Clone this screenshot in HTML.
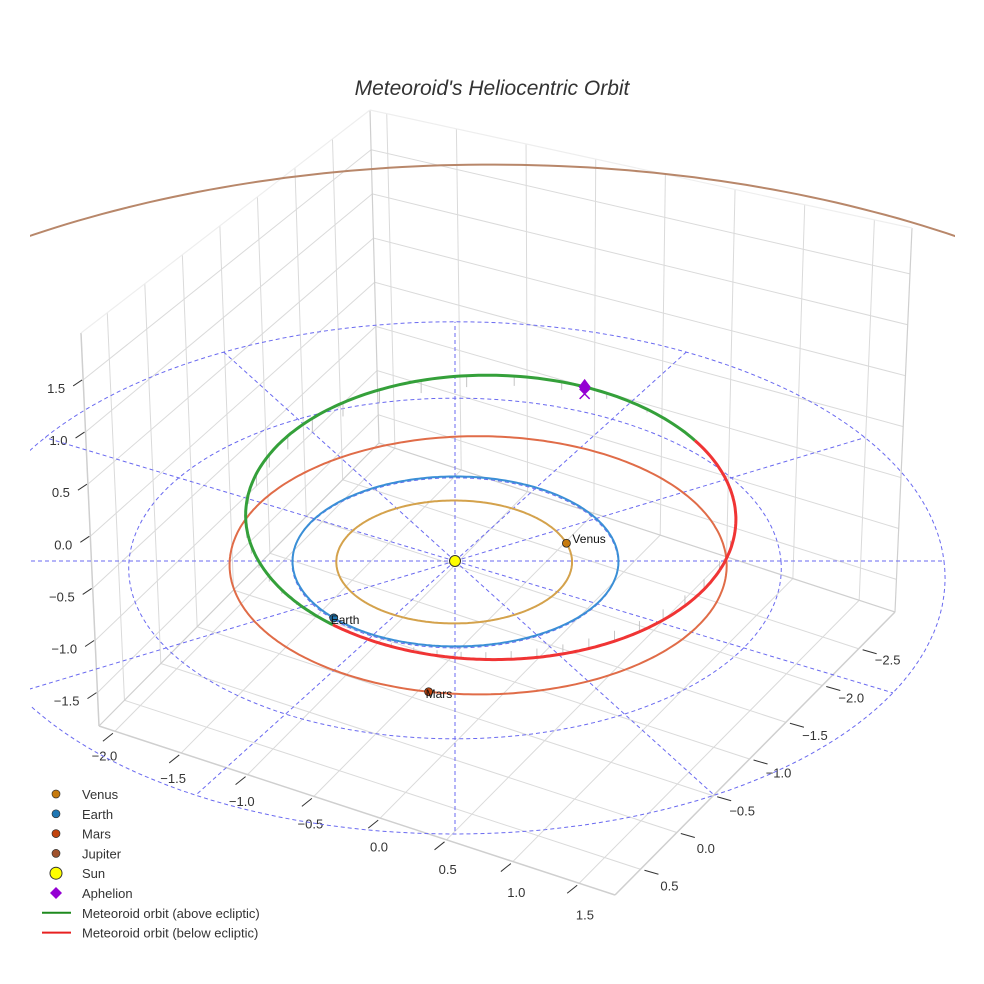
<!DOCTYPE html>
<html><head><meta charset="utf-8"><style>
html,body{margin:0;padding:0;background:#fff;overflow:hidden;}
svg{display:block;font-family:"Liberation Sans",sans-serif;}
</style></head><body>
<svg id="chart" width="984" height="984" viewBox="0 0 984 984" xmlns="http://www.w3.org/2000/svg">
<rect width="984" height="984" fill="#fff"/>
<text x="492" y="95" text-anchor="middle" font-size="21" font-style="italic" fill="#333">Meteoroid's Heliocentric Orbit</text>
<defs><clipPath id="clip"><rect x="30" y="0" width="925" height="984"/></clipPath>
<clipPath id="clipTop"><rect x="30" y="0" width="925" height="400"/></clipPath></defs>
<g id="box"></g>
<g id="plot" clip-path="url(#clip)"></g>
<g id="legend"></g>
</svg>
<script>
// ---- data ----
const planetNames=['Venus','Earth','Mars','Jupiter'];
const planetA=[0.723,1.0,1.524,5.203];
const planetE=[0.007,0.017,0.093,0.048];
const planetPeri=[0,100,180,180];
const planetAngle=[-17,138,96,null];
const planetOrbitColors=['#d4a24c','#3a8fd6','#e06c48','#b8876a'];
const planetMarkerColors=['#c67a0e','#1f77b4','#c1440e','#a0522d'];
const metA=1.62, metE=0.37, metPeri=112, metInc=4.5, metNode=135;
const ringRadii=[1,2,3];
const radialAngles=[0,30,60,90,120,150,180,210,240,270,300,330];
const xTicks=[-2.0,-1.5,-1.0,-0.5,0.0,0.5,1.0,1.5];
const yTicks=[0.5,0.0,-0.5,-1.0,-1.5,-2.0,-2.5];
const zTicks=[-1.5,-1.0,-0.5,0.0,0.5,1.0,1.5];
const xRange=[-2.12,1.77], yRange=[0.85,-3.0], zRange=[-1.82,1.95];

const NS='http://www.w3.org/2000/svg';
function mk(tag,attrs,parent){const e=document.createElementNS(NS,tag);for(const k in attrs)e.setAttribute(k,attrs[k]);parent.appendChild(e);return e;}
const box=document.getElementById('box'), plot=document.getElementById('plot'), legend=document.getElementById('legend');

// ---- box projection ----
const FL=[99,726],F0=[615,895],FR=[895,612],FB=[379,443];
const H=[393,430,384,333], L=[-18,8,17,-9];
function bil(c,u,v){return (1-u)*(1-v)*c[0]+u*(1-v)*c[1]+u*v*c[2]+(1-u)*v*c[3];}
function B(u,v,w){
  const x=bil([FL[0],F0[0],FR[0],FB[0]],u,v), y=bil([FL[1],F0[1],FR[1],FB[1]],u,v);
  return [x+bil(L,u,v)*w, y-bil(H,u,v)*w];
}
const xu=x=>(x-xRange[0])/(xRange[1]-xRange[0]);
const yv=y=>(yRange[0]-y)/(yRange[0]-yRange[1]);
const zw=z=>(z-zRange[0])/(zRange[1]-zRange[0]);
function seg(p,q,stroke,sw,name){const l=mk('line',{x1:p[0],y1:p[1],x2:q[0],y2:q[1],stroke:stroke,'stroke-width':sw},box);return l;}
const G='#dadada';
xTicks.forEach(t=>{const u=xu(t);seg(B(u,0,0),B(u,1,0),G,1,'floor-gridline-x');seg(B(u,1,0),B(u,1,1),G,1,'wall-gridline-x');});
yTicks.forEach(t=>{const v=yv(t);seg(B(0,v,0),B(1,v,0),G,1,'floor-gridline-y');seg(B(0,v,0),B(0,v,1),G,1,'wall-gridline-y');});
zTicks.forEach(t=>{const w=zw(t);seg(B(0,0,w),B(0,1,w),G,1,'wall-gridline-z');seg(B(0,1,w),B(1,1,w),G,1,'wall-gridline-z');});
const E='#cfcfcf';
seg(B(0,0,0),B(1,0,0),E,1.5,'x-axis-line');seg(B(1,0,0),B(1,1,0),E,1.5,'y-axis-line');
seg(B(0,0,0),B(0,0,1),E,1.5,'z-axis-line');seg(B(0,1,0),B(0,1,1),E,1.2,'box-edge');
seg(B(1,1,0),B(1,1,1),E,1.2,'box-edge');seg(B(0,0,1),B(0,1,1),'#eee',1.2,'box-edge');seg(B(0,1,1),B(1,1,1),'#eee',1.2,'box-edge');
seg(B(0,0,0),B(0,1,0),E,1.2,'box-edge');seg(B(0,1,0),B(1,1,0),E,1.2,'box-edge');
function lbl(x,y,txt,anchor,name){const t=mk('text',{x:x,y:y,'text-anchor':anchor,'font-size':13,fill:'#333'},box);t.textContent=txt;}
const fmt=t=>(t<0?'\u2212':'')+Math.abs(t).toFixed(1);
zTicks.forEach(t=>{const p=B(0,0,zw(t));seg([p[0]-1,p[1]],[p[0]-10,p[1]+6],'#333',1,'z-tick');lbl(p[0]-18,p[1]+13,fmt(t),'end','z-tick-label');});
xTicks.forEach(t=>{const u=xu(t);const p=B(u,0,0);seg([p[0]-2,p[1]+2],[p[0]-12,p[1]+10],'#333',1,'x-tick');lbl(p[0]-11+18*u,p[1]+29+8*u,fmt(t),'middle','x-tick-label');});
yTicks.forEach(t=>{const v=yv(t);const p=B(1,v,0);seg([p[0]+4,p[1]+1],[p[0]+18,p[1]+5],'#333',1,'y-tick');lbl(p[0]+29,p[1]+22-7*v,fmt(t),'middle','y-tick-label');});

// ---- ecliptic projection ----
const kx=163,ky=85,kz=104,cx0=455,cy0=561;
function proj(X,Y,Z){const f=1/(1-0.022*Y);return [cx0+kx*X*f, cy0+ky*Y*f-kz*Z*f];}
const rad=d=>d*Math.PI/180;
function orbitXY(a,e,w,th){const r=a*(1-e*e)/(1+e*Math.cos(rad(th-w)));return [r*Math.cos(rad(th)),r*Math.sin(rad(th)),r];}
function path(pts){return pts.map((p,i)=>(i?'L':'M')+p[0].toFixed(1)+' '+p[1].toFixed(1)).join(' ');}

ringRadii.forEach(R=>{const pts=[];for(let t=0;t<=360;t+=2)pts.push(proj(R*Math.cos(rad(t)),R*Math.sin(rad(t)),0));
  const p=mk('path',{d:path(pts),fill:'none',stroke:'#6a6af0','stroke-width':1,'stroke-dasharray':'4 3'},plot);
  });
radialAngles.forEach(t=>{const q=proj(3*Math.cos(rad(t)),3*Math.sin(rad(t)),0);
  const l=mk('line',{x1:cx0,y1:cy0,x2:q[0],y2:q[1],stroke:'#6a6af0','stroke-width':1,'stroke-dasharray':'4 3'},plot);
  });

planetNames.forEach((n,i)=>{const pts=[];for(let t=0;t<=360;t+=1){const o=orbitXY(planetA[i],planetE[i],planetPeri[i],t);pts.push(proj(o[0],o[1],0));}
  const p=mk('path',{d:path(pts),fill:'none',stroke:planetOrbitColors[i],'stroke-width':2},plot);
  if(n==='Jupiter')p.setAttribute('clip-path','url(#clipTop)');
  });

function metPt(th){const o=orbitXY(metA,metE,metPeri,th);const Z=o[2]*Math.sin(rad(metInc))*Math.sin(rad(th-metNode));return [o[0],o[1],Z];}
for(let th=0;th<360;th+=8){const m=metPt(th);const a=proj(m[0],m[1],m[2]),b=proj(m[0],m[1],0);
  const l=mk('line',{x1:a[0],y1:a[1],x2:b[0],y2:b[1],stroke:'#c4c4c4','stroke-width':1},plot);
  }
let segs=[],cur=null,curSign=null;
for(let th=0;th<=360;th+=1){const m=metPt(th);const s=m[2]>=0;const p=proj(m[0],m[1],m[2]);
  if(s!==curSign){if(cur){cur.push(p);segs.push([curSign,cur]);}cur=[p];curSign=s;}else cur.push(p);}
segs.push([curSign,cur]);
segs.forEach(s=>{const p=mk('path',{d:path(s[1]),fill:'none',stroke:s[0]?'#34a03a':'#f03434','stroke-width':3},plot);
  });

planetNames.forEach((n,i)=>{if(planetAngle[i]===null)return;const o=orbitXY(planetA[i],planetE[i],planetPeri[i],planetAngle[i]);const p=proj(o[0],o[1],0);
  const c=mk('circle',{cx:p[0],cy:p[1],r:4,fill:planetMarkerColors[i],stroke:'#222','stroke-width':0.8},plot);
  
  const t=mk('text',{x:p[0]+(n==='Venus'?6:-3),y:p[1]+(n==='Venus'?0:6),'font-size':12,fill:'#111'},plot);t.textContent=n;
  });

const sun=mk('circle',{cx:cx0,cy:cy0,r:5.5,fill:'#ffff00',stroke:'#333','stroke-width':1},plot);


const ap=metPt(metPeri+180);const apP=proj(ap[0],ap[1],ap[2]);
const xm=mk('path',{d:`M${apP[0]-5} ${apP[1]+2}L${apP[0]+5} ${apP[1]+12}M${apP[0]+5} ${apP[1]+2}L${apP[0]-5} ${apP[1]+12}`,stroke:'#9400d3','stroke-width':1.5,fill:'none'},plot);

const dm=mk('path',{d:`M${apP[0]} ${apP[1]-8}L${apP[0]+6} ${apP[1]}L${apP[0]} ${apP[1]+8}L${apP[0]-6} ${apP[1]}Z`,fill:'#9400d3'},plot);


const legNames=['Venus','Earth','Mars','Jupiter','Sun','Aphelion','Meteoroid orbit (above ecliptic)','Meteoroid orbit (below ecliptic)'];
legNames.forEach((n,i)=>{const y=795+19.8*i;const g=mk('g',{},legend);
  
  if(i<4)mk('circle',{cx:56,cy:y-1,r:4,fill:planetMarkerColors[i],stroke:'#333','stroke-width':0.7},g);
  else if(i===4)mk('circle',{cx:56,cy:y-1,r:6,fill:'#ffff00',stroke:'#333','stroke-width':1},g);
  else if(i===5)mk('path',{d:`M56 ${y-7}L62 ${y-1}L56 ${y+5}L50 ${y-1}Z`,fill:'#9400d3'},g);
  else mk('line',{x1:42,y1:y-1,x2:71,y2:y-1,stroke:i===6?'#1e8a1e':'#e82020','stroke-width':2},g);
  const t=mk('text',{x:82,y:y+4,'font-size':13,fill:'#333'},g);t.textContent=n;});
</script>
</body></html>
